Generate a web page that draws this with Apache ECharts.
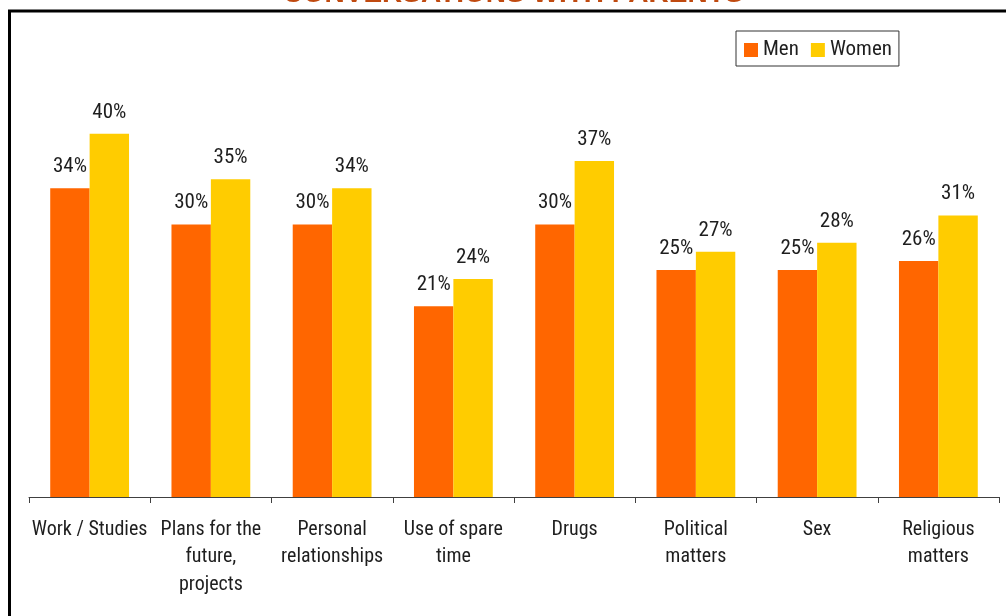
<!DOCTYPE html>
<html>
<head>
<meta charset="utf-8">
<style>
  html, body { margin: 0; padding: 0; background: #fff; }
  #chart { width: 1006px; height: 616px; }
</style>
<script src="https://cdn.jsdelivr.net/npm/echarts@6/dist/echarts.min.js"></script>
</head>
<body>
<div id="chart"></div>
<script>
// Topics discussed with parents, share of respondents (%)
const categories = [
  'Work / Studies',
  'Plans for the\nfuture,\nprojects',
  'Personal\nrelationships',
  'Use of spare\ntime',
  'Drugs',
  'Political\nmatters',
  'Sex',
  'Religious\nmatters'
];
const men   = [34, 30, 30, 21, 30, 25, 25, 26];
const women = [40, 35, 34, 24, 37, 27, 28, 31];

const FONT = '"Roboto Condensed", "Liberation Sans", Arial, sans-serif';
const TEXT = '#1e1e1e';

const chart = echarts.init(document.getElementById('chart'), null, { renderer: 'canvas' });

const valueLabel = {
  show: true,
  position: 'top',
  distance: 11,
  formatter: p => p.value + '%',
  color: TEXT,
  fontFamily: FONT,
  fontSize: 21
};

chart.setOption({
  animation: false,
  backgroundColor: '#fff',
  graphic: [
    {
      type: 'rect',
      shape: { x: 9.5, y: 11, width: 1100, height: 700 },
      style: { fill: 'none', stroke: '#000', lineWidth: 3 },
      silent: true,
      z: 10
    },
    {
      type: 'text',
      x: 513,
      y: 8,
      style: {
        text: 'CONVERSATIONS WITH PARENTS',
        fill: '#C04A10',
        font: 'bold 28px "Liberation Sans", Arial, sans-serif',
        align: 'center',
        verticalAlign: 'bottom'
      },
      silent: true,
      z: 5
    }
  ],
  legend: {
    left: 736,
    top: 31,
    orient: 'horizontal',
    padding: [8, 7, 5, 8],
    itemGap: 12,
    itemWidth: 14,
    itemHeight: 14,
    borderColor: '#333',
    borderWidth: 1,
    icon: 'rect',
    textStyle: { color: TEXT, fontFamily: FONT, fontSize: 21, lineHeight: 22 },
    data: ['Men', 'Women']
  },
  grid: { left: 29, right: 7, top: 43, bottom: 119, containLabel: false },
  xAxis: {
    type: 'category',
    data: categories,
    axisLine: { lineStyle: { color: '#404040', width: 1 } },
    axisTick: { show: true, length: 6, lineStyle: { color: '#404040' } },
    axisLabel: {
      interval: 0,
      margin: 19,
      color: TEXT,
      fontFamily: FONT,
      fontSize: 20,
      lineHeight: 27.5
    }
  },
  yAxis: {
    type: 'value',
    min: 0,
    max: 50,
    show: false,
    splitLine: { show: false }
  },
  series: [
    {
      name: 'Men',
      type: 'bar',
      data: men,
      barGap: '0%',
      barCategoryGap: '35%',
      itemStyle: { color: '#FF6600' },
      label: valueLabel
    },
    {
      name: 'Women',
      type: 'bar',
      data: women,
      barGap: '0%',
      barCategoryGap: '35%',
      itemStyle: { color: '#FFCC00' },
      label: valueLabel
    }
  ]
});
</script>
</body>
</html>
